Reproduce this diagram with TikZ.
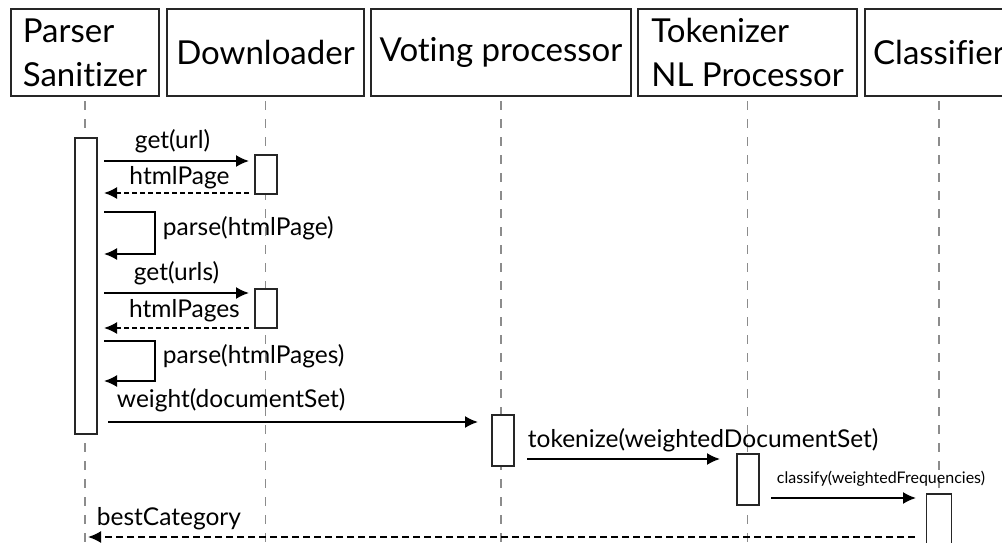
\documentclass[tikz,border=0pt]{standalone}
\usepackage{fontspec}
\setmainfont{Lato}[Ligatures=NoCommon]
\usetikzlibrary{arrows.meta}

\begin{document}
\begin{tikzpicture}[x=1pt, y=-1pt,
    head/.style={draw=black!85, line width=2.2pt, minimum height=87pt, align=left,
                 font=\fontsize{33}{44}\selectfont, inner sep=0pt},
    act/.style={draw=black!85, line width=1.5pt, fill=white, minimum width=22pt,
                anchor=north, inner sep=0pt},
    life/.style={draw=black!45, line width=1.5pt, dash pattern=on 9pt off 9pt},
    call/.style={line width=1.8pt, -{Latex[length=13pt,width=12pt]}},
    reply/.style={call, dash pattern=on 5pt off 3pt},
    lbl/.style={font=\fontsize{24.5}{26}\selectfont, inner sep=0pt, anchor=base}]
      \useasboundingbox (0,0) rectangle (1002,543);
      \clip (0,0) rectangle (1002,543);
      % objects
      \node[head, minimum width=148pt] (parser) at (85,52.5) {Parser\\Sanitizer};
      \node[head, minimum width=197pt] (down) at (265.5,52.5) {Downloader};
      \node[head, minimum width=260pt] (vote) at (501,52.5) {Voting processor};
      \node[head, minimum width=219pt] (token) at (747.5,52.5) {Tokenizer\\NL Processor};
      \node[head, minimum width=148pt] (classif) at (939,52.5) {Classifier};
      \coordinate (bottom) at (0,543);
      \foreach \n in {parser, down, vote, token, classif}
        \draw[life] ([yshift=-4pt]\n.south) -- (\n.south |- bottom);
      % activations
      \node[act, minimum height=296pt] (pact) at (86,137) {};
      \node[act, minimum height=39pt] (dact1) at (266,154) {};
      \node[act, minimum height=39pt] (dact2) at (266,288) {};
      \node[act, minimum height=51pt] (vact) at (503,414) {};
      \node[act, minimum height=51pt] (tact) at (748,453) {};
      \node[act, minimum width=25pt, minimum height=60pt] (cact) at (939,493) {};
      % messages
      \coordinate (g1) at (104,161); \coordinate (g1e) at (249,161);
      \coordinate (h1) at (249,193); \coordinate (h1e) at (104,193);
      \coordinate (p1) at (104,212); \coordinate (p1e) at (104,254);
      \coordinate (g2) at (104,293); \coordinate (g2e) at (249,293);
      \coordinate (h2) at (249,328); \coordinate (h2e) at (104,328);
      \coordinate (p2) at (104,341); \coordinate (p2e) at (104,381);
      \coordinate (w) at (108,422); \coordinate (we) at (478,422);
      \coordinate (t) at (527,459); \coordinate (te) at (720,459);
      \coordinate (c) at (771,498); \coordinate (ce) at (916,498);
      \coordinate (r) at (915,537); \coordinate (re) at (88,537);
      \draw[call] (g1) -- node[lbl, yshift=13pt, xshift=-4pt] {get(url)} (g1e);
      \draw[reply] (h1) -- node[lbl, yshift=9pt, xshift=3pt] {htmlPage} (h1e);
      \draw[call] (p1) -- ++(51,0) |- node[lbl, anchor=mid west, pos=.25, xshift=7pt] {parse(htmlPage)} (p1e);
      \draw[call] (g2) -- node[lbl, yshift=13pt] {get(urls)} (g2e);
      \draw[reply] (h2) -- node[lbl, yshift=11pt, xshift=8pt] {htmlPages} (h2e);
      \draw[call] (p2) -- ++(51,0) |- node[lbl, anchor=mid west, pos=.25, xshift=7pt] {parse(htmlPages)} (p2e);
      \draw[call] (w) -- node[lbl, anchor=base west, pos=0, xshift=8pt, yshift=15pt] {weight(documentSet)} (we);
      \draw[call] (t) -- node[lbl, anchor=base west, pos=0, yshift=12pt] {tokenize(weightedDocumentSet)} (te);
      \draw[call] (c) -- node[lbl, anchor=base west, pos=0, xshift=5pt, yshift=15pt,
                            font=\fontsize{16}{18}\selectfont] {classify(weightedFrequencies)} (ce);
      \draw[reply, dash pattern=on 7pt off 4pt] (r) -- node[lbl, anchor=base west, pos=1, xshift=8pt, yshift=12pt] {bestCategory} (re);
\end{tikzpicture}
\end{document}
